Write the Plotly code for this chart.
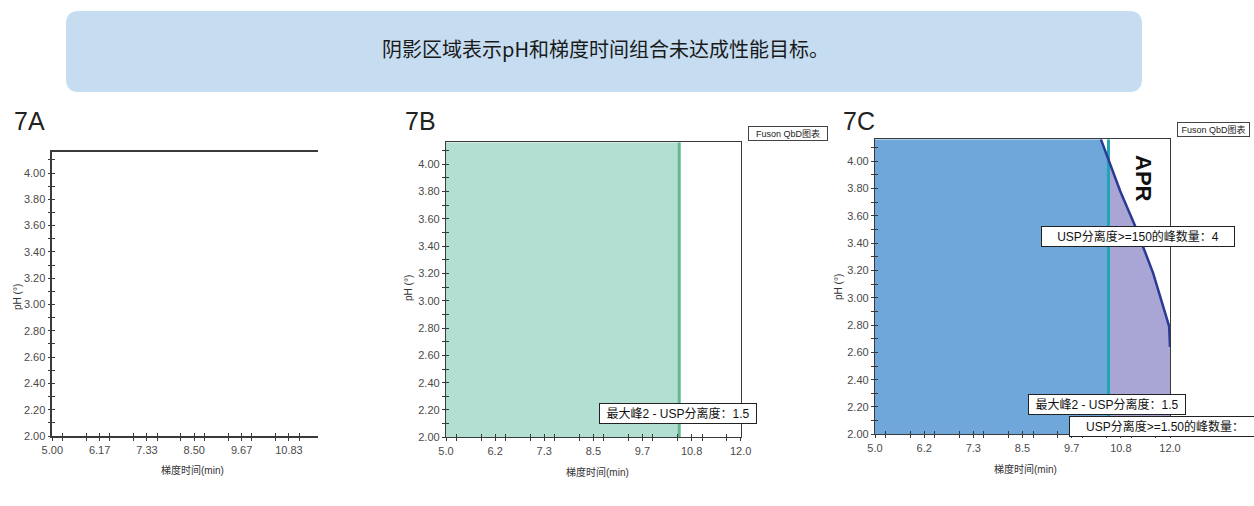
import numpy as np
import plotly.graph_objects as go

W, H = 1254, 506

# ---- data -------------------------------------------------------------
ph_range = [2.0, 4.16]                 # pH (°) axis extent
time_range_a = [5.0, 11.55]            # gradient time axis, panel 7A
time_range_bc = [5.0, 12.0]            # gradient time axis, panels 7B / 7C
time_major_step = 7.0 / 6.0            # labelled gradient-time ticks
ph_major_step = 0.2

usp_limit_time = 10.54                 # max peak 2 USP resolution = 1.5 boundary

# APR boundary: peaks with USP resolution >= 1.50 count
apr_edge_time = [10.36, 10.56, 10.82, 11.18, 11.60, 11.98, 12.00]
apr_edge_ph = [4.16, 4.00, 3.78, 3.52, 3.18, 2.79, 2.64]

banner_text = "阴影区域表示pH和梯度时间组合未达成性能目标。"
panel_labels = ["7A", "7B", "7C"]
x_title = "梯度时间(min)"
y_title = "pH (°)"
chart_tag = "Fuson QbD图表"
label_peak2 = "最大峰2 - USP分离度：1.5"
label_150 = "USP分离度>=150的峰数量：4"
label_1_50 = "USP分离度>=1.50的峰数量："

# ---- styling ------------------------------------------------------------
LATIN = "Liberation Sans, Arial, Noto Sans CJK SC"
AXIS_COL = "#3a3a3a"
TICK_FONT = dict(family=LATIN, size=11, color="#4a4a4a")
GREEN_FILL = "#b3dfd3"
GREEN_LINE = "#5fb98f"
BLUE_FILL = "#6fa7da"
PURPLE_FILL = "#a9a6d6"
TEAL_LINE = "#1fa5b4"
EDGE_LINE = "#2b3a92"


def fx(px):
    return px / W


def fy(py):
    return 1 - py / H


# plot areas in pixels: (left, right, top, bottom)
areas = {
    "a": (52.3, 318.0, 152.0, 436.0),
    "b": (446.0, 740.7, 142.3, 437.3),
    "c": (875.0, 1170.0, 139.3, 434.3),
}

fig = go.Figure()

# empty traces so every axis pair (and its tick overlay) gets drawn
for xa, ya in [("x", "y"), ("x4", "y4"), ("x5", "y5"), ("x6", "y6")]:
    fig.add_trace(go.Scatter(x=[], y=[], xaxis=xa, yaxis=ya, mode="lines",
                             hoverinfo="skip", showlegend=False))

# ---- panel 7B: shaded region left of the resolution boundary ------------
fig.add_trace(go.Scatter(
    x=[time_range_bc[0], usp_limit_time, usp_limit_time, time_range_bc[0]],
    y=[ph_range[0], ph_range[0], ph_range[1], ph_range[1]],
    fill="toself", fillcolor=GREEN_FILL, mode="none",
    xaxis="x2", yaxis="y2", hoverinfo="skip", showlegend=False))
fig.add_trace(go.Scatter(
    x=[usp_limit_time, usp_limit_time], y=ph_range, mode="lines",
    line=dict(color=GREEN_LINE, width=3),
    xaxis="x2", yaxis="y2", hoverinfo="skip", showlegend=False))

# ---- panel 7C: failing regions and APR boundary -------------------------
edge_t = np.array(apr_edge_time)
edge_p = np.array(apr_edge_ph)
ph_at_limit = float(np.interp(usp_limit_time, edge_t, edge_p))
left_part = edge_t < usp_limit_time
right_part = edge_t > usp_limit_time

blue_x = [time_range_bc[0], time_range_bc[0]] + list(edge_t[left_part]) + [usp_limit_time, usp_limit_time]
blue_y = [ph_range[0], ph_range[1]] + list(edge_p[left_part]) + [ph_at_limit, ph_range[0]]
fig.add_trace(go.Scatter(
    x=blue_x, y=blue_y, fill="toself", fillcolor=BLUE_FILL, mode="none",
    xaxis="x3", yaxis="y3", hoverinfo="skip", showlegend=False))

purple_x = [usp_limit_time, usp_limit_time] + list(edge_t[right_part]) + [time_range_bc[1]]
purple_y = [ph_range[0], ph_at_limit] + list(edge_p[right_part]) + [ph_range[0]]
fig.add_trace(go.Scatter(
    x=purple_x, y=purple_y, fill="toself", fillcolor=PURPLE_FILL, mode="none",
    xaxis="x3", yaxis="y3", hoverinfo="skip", showlegend=False))

fig.add_trace(go.Scatter(
    x=[usp_limit_time, usp_limit_time], y=ph_range, mode="lines",
    line=dict(color=TEAL_LINE, width=3),
    xaxis="x3", yaxis="y3", hoverinfo="skip", showlegend=False))
fig.add_trace(go.Scatter(
    x=apr_edge_time, y=apr_edge_ph, mode="lines",
    line=dict(color=EDGE_LINE, width=2.5),
    xaxis="x3", yaxis="y3", hoverinfo="skip", showlegend=False))


# ---- axes -------------------------------------------------------------
def x_axis(key, rng, fmt, mirror, ticks, labels, overlay=None, anchor=None, lw=1.3):
    l, r, t, b = areas[key]
    ax = dict(
        domain=[fx(l), fx(r)], range=rng, showgrid=False, zeroline=False,
        showline=True, linecolor=AXIS_COL, linewidth=lw, mirror=mirror,
        tick0=time_range_bc[0], dtick=time_major_step, tickformat=fmt,
        ticks=ticks, ticklen=3, tickcolor=AXIS_COL, tickwidth=1,
        minor=dict(dtick=time_major_step / 2, ticks=ticks, ticklen=3,
                   tickcolor=AXIS_COL, tickwidth=1),
        showticklabels=labels, tickfont=TICK_FONT, fixedrange=True,
    )
    if overlay:
        ax["overlaying"] = overlay
    if anchor:
        ax["anchor"] = anchor
    return ax


def y_axis(key, mirror, ticks, labels, overlay=None, anchor=None, lw=1.3):
    l, r, t, b = areas[key]
    ax = dict(
        domain=[fy(b), fy(t)], range=ph_range, showgrid=False, zeroline=False,
        showline=True, linecolor=AXIS_COL, linewidth=lw, mirror=mirror,
        tick0=ph_range[0], dtick=ph_major_step, tickformat=".2f",
        ticks=ticks, ticklen=3, tickcolor=AXIS_COL, tickwidth=1,
        minor=dict(dtick=ph_major_step / 2, ticks=ticks, ticklen=3,
                   tickcolor=AXIS_COL, tickwidth=1),
        showticklabels=labels, tickfont=TICK_FONT, fixedrange=True,
    )
    if overlay:
        ax["overlaying"] = overlay
    if anchor:
        ax["anchor"] = anchor
    return ax


layout_axes = dict(
    xaxis=x_axis("a", time_range_a, ".2f", True, "outside", True, anchor="y", lw=1.6),
    yaxis=y_axis("a", False, "outside", True, anchor="x", lw=1.6),
    xaxis2=x_axis("b", time_range_bc, ".1f", True, "outside", True, anchor="y2"),
    yaxis2=y_axis("b", True, "outside", True, anchor="x2"),
    xaxis3=x_axis("c", time_range_bc, ".1f", True, "outside", True, anchor="y3"),
    yaxis3=y_axis("c", True, "outside", True, anchor="x3"),
    # inner halves of the crossing tick marks
    xaxis4=x_axis("a", time_range_a, ".2f", True, "inside", False, overlay="x", anchor="y", lw=1.6),
    yaxis4=y_axis("a", False, "inside", False, overlay="y", anchor="x", lw=1.6),
    xaxis5=x_axis("b", time_range_bc, ".1f", True, "inside", False, overlay="x2", anchor="y2"),
    yaxis5=y_axis("b", True, "inside", False, overlay="y2", anchor="x2"),
    xaxis6=x_axis("c", time_range_bc, ".1f", True, "inside", False, overlay="x3", anchor="y3"),
    yaxis6=y_axis("c", True, "inside", False, overlay="y3", anchor="x3"),
)

# ---- annotations ------------------------------------------------------
ann = []
title_font = dict(family=LATIN, size=10, color="#333333")
boxed = dict(bgcolor="white", bordercolor="#222222", borderwidth=1, borderpad=2)

panel_label_pos = {"a": 12, "b": 403, "c": 841}
for key, text in zip("abc", panel_labels):
    ann.append(dict(x=fx(panel_label_pos[key]), y=fy(121), xref="paper", yref="paper",
                    text=text, showarrow=False, xanchor="left", yanchor="middle",
                    font=dict(family=LATIN, size=25, color="#222222")))

x_title_pos = {"a": (192, 470), "b": (597, 472), "c": (1025, 469)}
y_title_pos = {"a": (17, 297), "b": (408, 288), "c": (838, 287)}
for key in "abc":
    px, py = x_title_pos[key]
    ann.append(dict(x=fx(px), y=fy(py), xref="paper", yref="paper", text=x_title,
                    showarrow=False, xanchor="center", yanchor="middle", font=title_font))
    px, py = y_title_pos[key]
    ann.append(dict(x=fx(px), y=fy(py), xref="paper", yref="paper", text=y_title,
                    showarrow=False, xanchor="center", yanchor="middle", textangle=-90,
                    font=title_font))

# chart tags
for px, py, w in [(787.5, 133, 76), (1213.5, 129.7, 69)]:
    ann.append(dict(x=fx(px), y=fy(py), xref="paper", yref="paper", text=chart_tag,
                    showarrow=False, xanchor="center", yanchor="middle",
                    font=dict(family=LATIN, size=9, color="#222222"), width=w,
                    bgcolor="white", bordercolor="#444444", borderwidth=1, borderpad=1))

label_font = dict(family=LATIN, size=12, color="#111111")
ann.append(dict(x=fx(678), y=fy(413.5), xref="paper", yref="paper", text=label_peak2,
                showarrow=False, xanchor="center", yanchor="middle", font=label_font,
                width=152, **boxed))
ann.append(dict(x=fx(1107), y=fy(404), xref="paper", yref="paper", text=label_peak2,
                showarrow=False, xanchor="center", yanchor="middle", font=label_font,
                width=152, **boxed))
ann.append(dict(x=fx(1138), y=fy(236.5), xref="paper", yref="paper", text=label_150,
                showarrow=False, xanchor="center", yanchor="middle", font=label_font,
                width=188, **boxed))
ann.append(dict(x=fx(1069), y=fy(426), xref="paper", yref="paper", text=label_1_50,
                showarrow=False, xanchor="left", yanchor="middle", font=label_font,
                width=186, align="center", **boxed))

ann.append(dict(x=fx(1143), y=fy(178), xref="paper", yref="paper", text="<b>APR</b>",
                showarrow=False, xanchor="center", yanchor="middle", textangle=90,
                font=dict(family=LATIN, size=22, color="#111111")))

ann.append(dict(x=fx(605), y=fy(48), xref="paper", yref="paper", text=banner_text,
                showarrow=False, xanchor="center", yanchor="middle",
                font=dict(family="Noto Sans CJK SC, sans-serif", size=20, color="#1a1a1a")))

# ---- banner with rounded corners ---------------------------------------
bl, br, bt, bb, rad = 66, 1142, 11, 92, 13
path = (
    f"M {fx(bl + rad)},{fy(bt)} L {fx(br - rad)},{fy(bt)} "
    f"Q {fx(br)},{fy(bt)} {fx(br)},{fy(bt + rad)} "
    f"L {fx(br)},{fy(bb - rad)} Q {fx(br)},{fy(bb)} {fx(br - rad)},{fy(bb)} "
    f"L {fx(bl + rad)},{fy(bb)} Q {fx(bl)},{fy(bb)} {fx(bl)},{fy(bb - rad)} "
    f"L {fx(bl)},{fy(bt + rad)} Q {fx(bl)},{fy(bt)} {fx(bl + rad)},{fy(bt)} Z"
)
shapes = [dict(type="path", xref="paper", yref="paper", path=path,
               fillcolor="#c6ddf1", line=dict(width=0), layer="below")]

fig.update_layout(
    width=W, height=H, margin=dict(l=0, r=0, t=0, b=0, autoexpand=False),
    paper_bgcolor="white", plot_bgcolor="white",
    showlegend=False, annotations=ann, shapes=shapes,
    **layout_axes,
)

fig.write_html("out.html", config={"displayModeBar": False})
